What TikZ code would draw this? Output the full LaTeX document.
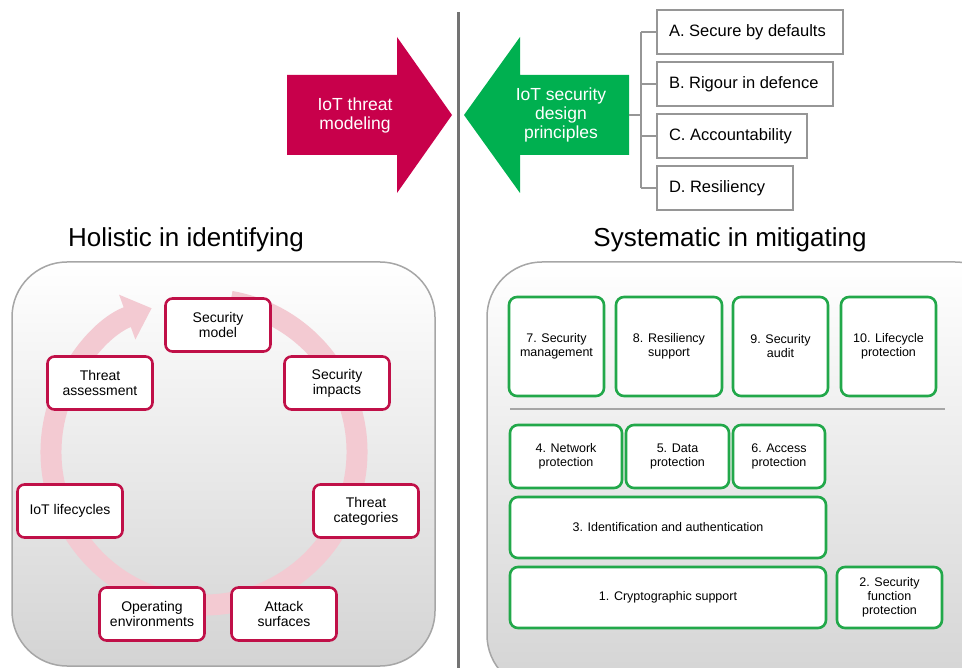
\documentclass[tikz,border=0pt]{standalone}
\usepackage{fontspec}
\setmainfont{Liberation Sans}
\usetikzlibrary{arrows.meta,shapes.arrows}
\definecolor{redc}{RGB}{200,0,75}
\definecolor{greenc}{RGB}{0,176,80}
\definecolor{boxred}{RGB}{192,16,72}
\definecolor{boxgreen}{RGB}{34,168,74}
\definecolor{ringpink}{RGB}{243,202,210}
\definecolor{panelgray}{RGB}{166,166,166}
\definecolor{brgray}{RGB}{150,150,150}
\tikzset{
  redbox/.style={draw=boxred, line width=2.6pt, rounded corners=7pt, fill=white,
    minimum width=105pt, minimum height=53pt, align=center, inner sep=1pt,
    font=\fontsize{14}{15}\selectfont},
  greenbox/.style={draw=boxgreen, line width=2.6pt, rounded corners=8pt, fill=white,
    align=center, inner sep=1pt, font=\fontsize{12.5}{14}\selectfont},
  princbox/.style={draw=brgray, line width=2pt, fill=white, anchor=west,
    minimum height=44pt, inner ysep=0pt, inner xsep=12pt, align=flush left,
    font=\fontsize{16.5}{18}\selectfont},
  paneltitle/.style={font=\fontsize{26}{28}\selectfont},
  panel/.style={draw=panelgray, line width=1.5pt, rounded corners=55pt, top color=white, bottom color=black!17},
  arrowtext/.style={text=white, align=center, font=\fontsize{17.5}{19}\selectfont},
  brline/.style={draw=brgray, line width=1.8pt}
}
\begin{document}
\begin{tikzpicture}[x=1pt,y=-1pt]
\useasboundingbox (0,0) rectangle (962,668);
\clip (0,0) rectangle (962,668);
% divider
\draw[draw=black!55, line width=3pt] (458,12) -- (458,672);
% arrows
\fill[redc] (287,75) -- (397,75) -- (397,37) -- (452,115) -- (397,193) -- (397,155) -- (287,155) -- cycle;
\node[arrowtext] (redtxt) at (355,115) {IoT threat\\modeling};
\fill[greenc] (629,75) -- (520,75) -- (520,37) -- (464,115) -- (520,193) -- (520,155) -- (629,155) -- cycle;
\coordinate (garrow) at (629,115);
\node[arrowtext] (greentxt) at (561,115) {IoT security\\design\\principles};
% principles
\node[princbox, text width=162pt] (pA) at (656,32) {\mbox{A. Secure by defaults}};
\node[princbox, text width=152pt] (pB) at (656,84) {\mbox{B. Rigour in defence}};
\node[princbox, text width=126pt] (pC) at (656,136) {\mbox{C. Accountability}};
\node[princbox, text width=112pt] (pD) at (656,188) {\mbox{D. Resiliency}};
\coordinate (bt) at (641,32);
\coordinate (bb) at (641,188);
\coordinate (bm) at (641,115);
\draw[brline] (bt) -- (bb);
\draw[brline] (garrow) -- (bm);
\draw[brline] (bt) -- (pA.west);
\draw[brline] (641,84) -- (pB.west);
\draw[brline] (641,136) -- (pC.west);
\draw[brline] (bb) -- (pD.west);
% titles
\node[paneltitle] (t1) at (186,240) {Holistic in identifying};
\node[paneltitle] (t2) at (730,240) {Systematic in mitigating};
% panels
\path[panel] (12,262) rectangle (435,666);
\path[panel] (487,262) rectangle (1010,690);
% ring
\coordinate (c) at (204,452);
\draw[ringpink, line width=21pt, -{Triangle[length=26pt,width=46pt]}]
  ([shift={(-80:153)}]c) arc[start angle=-80, end angle=250, radius=153];
% left nodes
\node[redbox] (sm) at (218,325) {Security\\model};
\node[redbox] (si) at (337,383) {Security\\impacts};
\node[redbox] (tc) at (366,511) {Threat\\categories};
\node[redbox] (as) at (284,614) {Attack\\surfaces};
\node[redbox] (oe) at (152,614) {Operating\\environments};
\node[redbox] (il) at (70,511) {IoT lifecycles};
\node[redbox] (ta) at (100,383) {Threat\\assessment};
% right boxes
\node[greenbox, minimum width=95pt, minimum height=99pt] (b7) at (556.5,346.5) {7. Security\\management};
\node[greenbox, minimum width=106pt, minimum height=99pt] (b8) at (669,346.5) {8. Resiliency\\support};
\node[greenbox, minimum width=95pt, minimum height=99pt] (b9) at (780.5,346.5) {9. Security\\audit};
\node[greenbox, minimum width=95pt, minimum height=99pt] (b10) at (888.5,346.5) {10. Lifecycle\\protection};
\coordinate (sepL) at (510,409);
\coordinate (sepR) at (945,409);
\draw[draw=black!35, line width=1.2pt] (sepL) -- (sepR);
\node[greenbox, minimum width=112pt, minimum height=63pt] (b4) at (566,456.5) {4. Network\\protection};
\node[greenbox, minimum width=103pt, minimum height=63pt] (b5) at (677.5,456.5) {5. Data\\protection};
\node[greenbox, minimum width=92pt, minimum height=63pt] (b6) at (779,456.5) {6. Access\\protection};
\node[greenbox, minimum width=316pt, minimum height=61pt] (b3) at (668,527.5) {3. Identification and authentication};
\node[greenbox, minimum width=316pt, minimum height=61pt] (b1) at (668,597.5) {1. Cryptographic support};
\node[greenbox, minimum width=105pt, minimum height=61pt] (b2) at (889.5,597.5) {2. Security\\function\\protection};
\end{tikzpicture}
\end{document}
